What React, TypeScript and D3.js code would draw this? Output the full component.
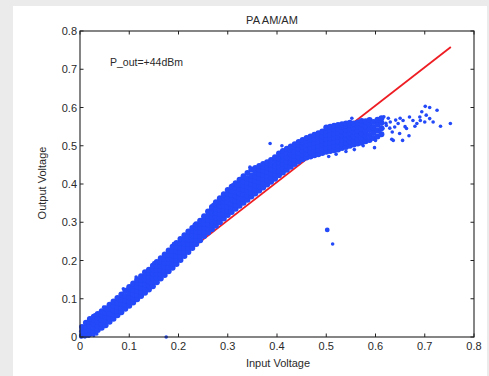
import React from "react";
import * as d3 from "d3";

const title = "PA AM/AM";
const xLabel = "Input Voltage";
const yLabel = "Output Voltage";
const note = "P_out=+44dBm";
const xTicks = [0, 0.1, 0.2, 0.3, 0.4, 0.5, 0.6, 0.7, 0.8];
const yTicks = [0, 0.1, 0.2, 0.3, 0.4, 0.5, 0.6, 0.7, 0.8];

// linear reference line (red)
const refLine: [number, number][] = [
  [0, 0.005],
  [0.753, 0.758],
];

// dense measurement cloud: [input voltage, output voltages at that input]
const bandColumns: [number, number[]][] = [
  [0.004, [0.004, 0.015, 0.026]],
  [0.012, [0.005, 0.016, 0.027, 0.037]],
  [0.020, [0.008, 0.019, 0.030, 0.041, 0.047]],
  [0.028, [0.013, 0.024, 0.035, 0.046, 0.053]],
  [0.036, [0.018, 0.029, 0.040, 0.051, 0.060]],
  [0.044, [0.024, 0.035, 0.046, 0.057, 0.067]],
  [0.052, [0.031, 0.042, 0.053, 0.064, 0.075]],
  [0.060, [0.040, 0.051, 0.062, 0.073, 0.084]],
  [0.068, [0.048, 0.059, 0.070, 0.081, 0.093]],
  [0.076, [0.057, 0.068, 0.079, 0.090, 0.102]],
  [0.084, [0.065, 0.076, 0.087, 0.098, 0.111]],
  [0.092, [0.074, 0.085, 0.096, 0.107, 0.121]],
  [0.100, [0.082, 0.093, 0.104, 0.115, 0.126, 0.131]],
  [0.108, [0.090, 0.101, 0.112, 0.123, 0.134, 0.140]],
  [0.116, [0.099, 0.110, 0.121, 0.132, 0.143, 0.150]],
  [0.124, [0.107, 0.118, 0.129, 0.140, 0.151, 0.159]],
  [0.132, [0.116, 0.127, 0.138, 0.149, 0.160, 0.169]],
  [0.140, [0.124, 0.135, 0.146, 0.157, 0.168, 0.176]],
  [0.148, [0.133, 0.144, 0.155, 0.166, 0.177, 0.186]],
  [0.156, [0.143, 0.154, 0.165, 0.176, 0.187, 0.196]],
  [0.164, [0.153, 0.164, 0.175, 0.186, 0.197, 0.206]],
  [0.172, [0.162, 0.173, 0.184, 0.195, 0.206, 0.216]],
  [0.180, [0.172, 0.183, 0.194, 0.205, 0.216, 0.226]],
  [0.188, [0.181, 0.192, 0.203, 0.214, 0.225, 0.236]],
  [0.196, [0.191, 0.202, 0.213, 0.224, 0.235, 0.246]],
  [0.204, [0.201, 0.212, 0.223, 0.234, 0.245, 0.256]],
  [0.212, [0.212, 0.223, 0.234, 0.245, 0.256, 0.266]],
  [0.220, [0.222, 0.233, 0.244, 0.255, 0.266, 0.276]],
  [0.228, [0.233, 0.244, 0.255, 0.266, 0.277, 0.285]],
  [0.236, [0.243, 0.254, 0.265, 0.276, 0.287, 0.295]],
  [0.244, [0.253, 0.264, 0.275, 0.286, 0.297, 0.304]],
  [0.252, [0.264, 0.275, 0.286, 0.297, 0.308, 0.316]],
  [0.260, [0.273, 0.284, 0.295, 0.306, 0.317, 0.328]],
  [0.268, [0.282, 0.293, 0.304, 0.315, 0.326, 0.337, 0.340]],
  [0.276, [0.291, 0.302, 0.313, 0.324, 0.335, 0.346, 0.352]],
  [0.284, [0.300, 0.311, 0.322, 0.333, 0.344, 0.355, 0.363]],
  [0.292, [0.310, 0.321, 0.332, 0.343, 0.354, 0.365, 0.373]],
  [0.300, [0.319, 0.330, 0.341, 0.352, 0.363, 0.374, 0.384]],
  [0.308, [0.327, 0.338, 0.349, 0.360, 0.371, 0.382, 0.393]],
  [0.316, [0.335, 0.346, 0.357, 0.368, 0.379, 0.390, 0.402]],
  [0.324, [0.343, 0.354, 0.365, 0.376, 0.387, 0.398, 0.411]],
  [0.332, [0.351, 0.362, 0.373, 0.384, 0.395, 0.406, 0.420]],
  [0.340, [0.359, 0.370, 0.381, 0.392, 0.403, 0.414, 0.429]],
  [0.348, [0.367, 0.378, 0.389, 0.400, 0.411, 0.422, 0.438]],
  [0.356, [0.375, 0.386, 0.397, 0.408, 0.419, 0.430, 0.442]],
  [0.364, [0.383, 0.394, 0.405, 0.416, 0.427, 0.438, 0.447]],
  [0.372, [0.391, 0.402, 0.413, 0.424, 0.435, 0.446, 0.452]],
  [0.380, [0.399, 0.410, 0.421, 0.432, 0.443, 0.457]],
  [0.388, [0.406, 0.417, 0.428, 0.439, 0.450, 0.463]],
  [0.396, [0.414, 0.425, 0.436, 0.447, 0.458, 0.470]],
  [0.404, [0.423, 0.434, 0.445, 0.456, 0.467, 0.480]],
  [0.412, [0.430, 0.441, 0.452, 0.463, 0.474, 0.486]],
  [0.420, [0.437, 0.448, 0.459, 0.470, 0.481, 0.492]],
  [0.428, [0.445, 0.456, 0.467, 0.478, 0.489, 0.498]],
  [0.436, [0.452, 0.463, 0.474, 0.485, 0.496, 0.504]],
  [0.444, [0.459, 0.470, 0.481, 0.492, 0.503, 0.510]],
  [0.452, [0.465, 0.476, 0.487, 0.498, 0.509, 0.515]],
  [0.460, [0.469, 0.480, 0.491, 0.502, 0.513, 0.520]],
  [0.468, [0.472, 0.483, 0.494, 0.505, 0.516, 0.524]],
  [0.476, [0.475, 0.486, 0.497, 0.508, 0.519, 0.529]],
  [0.484, [0.478, 0.489, 0.500, 0.511, 0.522, 0.533]],
  [0.492, [0.481, 0.492, 0.503, 0.514, 0.525, 0.537]],
  [0.500, [0.484, 0.495, 0.506, 0.517, 0.528, 0.539, 0.548]],
  [0.508, [0.486, 0.497, 0.508, 0.519, 0.530, 0.541, 0.550]],
  [0.516, [0.488, 0.499, 0.510, 0.521, 0.532, 0.543, 0.552]],
  [0.524, [0.490, 0.501, 0.512, 0.523, 0.534, 0.545, 0.554]],
  [0.532, [0.494, 0.505, 0.516, 0.527, 0.538, 0.549, 0.556]],
  [0.540, [0.497, 0.508, 0.519, 0.530, 0.541, 0.552, 0.558]],
  [0.548, [0.500, 0.511, 0.522, 0.533, 0.544, 0.555, 0.560]],
  [0.556, [0.503, 0.514, 0.525, 0.536, 0.547, 0.558]],
  [0.564, [0.506, 0.517, 0.528, 0.539, 0.550, 0.561]],
  [0.572, [0.508, 0.520, 0.532, 0.544, 0.556, 0.565]],
  [0.580, [0.512, 0.525, 0.538, 0.551, 0.564]],
  [0.588, [0.515, 0.528, 0.542, 0.556, 0.567]],
  [0.596, [0.520, 0.534, 0.548, 0.562]],
  [0.604, [0.524, 0.540, 0.555, 0.568]],
  [0.612, [0.530, 0.546, 0.560, 0.572]],
];

// sparse points: origin cluster, edges, saturated tail
const sparsePoints: [number, number][] = [
  [0.002, 0.0], [0.010, 0.0], [0.018, 0.002], [0.028, 0.004], [0.034, 0.008],
  [0.006, 0.012], [0.016, 0.036], [0.030, 0.058], [0.048, 0.078], [0.088, 0.126],
  [0.114, 0.157], [0.150, 0.194], [0.190, 0.244], [0.232, 0.294], [0.270, 0.346],
  [0.310, 0.398], [0.345, 0.444], [0.505, 0.472], [0.520, 0.478], [0.540, 0.485],
  [0.557, 0.490], [0.575, 0.500], [0.552, 0.572], [0.598, 0.495], [0.600, 0.514],
  [0.609, 0.536], [0.615, 0.545], [0.617, 0.576], [0.621, 0.559], [0.622, 0.553],
  [0.626, 0.572], [0.629, 0.546], [0.630, 0.562], [0.633, 0.517], [0.634, 0.536],
  [0.636, 0.514], [0.639, 0.549], [0.641, 0.567], [0.646, 0.558], [0.649, 0.532],
  [0.650, 0.572], [0.655, 0.514], [0.656, 0.566], [0.660, 0.550], [0.663, 0.545],
  [0.668, 0.526], [0.669, 0.575], [0.676, 0.566], [0.680, 0.551], [0.684, 0.558],
  [0.690, 0.575], [0.691, 0.566], [0.694, 0.589], [0.700, 0.562], [0.701, 0.603],
  [0.703, 0.580], [0.710, 0.600], [0.710, 0.571], [0.717, 0.562], [0.725, 0.593],
  [0.732, 0.551], [0.752, 0.558], [0.386, 0.506], [0.410, 0.500], [0.513, 0.243],
  [0.175, 0.0],
];

const bigOutliers: [number, number][] = [[0.502, 0.28]];

const W = 489;
const H = 376;
const plotL = 80;
const plotR = 474;
const plotT = 31;
const plotB = 337;

export default function App() {
  const x = d3.scaleLinear().domain([0, 0.8]).range([plotL, plotR]);
  const y = d3.scaleLinear().domain([0, 0.8]).range([plotB, plotT]);
  const line = d3
    .line<[number, number]>()
    .x((d) => x(d[0]))
    .y((d) => y(d[1]));
  const bandPoints: [number, number][] = bandColumns.flatMap(([cx, ys]) =>
    ys.map((v) => [cx, v] as [number, number])
  );
  const blue = "#2349f8";
  const font = "'Liberation Sans', Arial, sans-serif";
  const txt = "#2a2a2a";
  const tick = 3.5;
  return (
    <div style={{ position: "absolute", left: 0, top: 0 }}>
      <svg width={W} height={H} style={{ display: "block" }}>
        <rect x={0} y={0} width={W} height={H} fill="#ebebeb" />
        <rect x={13} y={6} width={474} height={H - 6} fill="#ffffff" />
        <text x={272} y={24} textAnchor="middle" fontFamily={font} fontSize={11} fill={txt}>
          {title}
        </text>
        <path d={line(refLine) || ""} stroke="#ee1d23" strokeWidth={1.8} fill="none" />
        {bandPoints.map((p, i) => (
          <circle key={"b" + i} cx={x(p[0])} cy={y(p[1])} r={3} fill={blue} />
        ))}
        {sparsePoints.map((p, i) => (
          <circle key={"s" + i} cx={x(p[0])} cy={y(p[1])} r={1.8} fill={blue} />
        ))}
        {bigOutliers.map((p, i) => (
          <circle key={"o" + i} cx={x(p[0])} cy={y(p[1])} r={2.4} fill={blue} />
        ))}
        <rect
          x={plotL}
          y={plotT}
          width={plotR - plotL}
          height={plotB - plotT}
          fill="none"
          stroke="#222"
          strokeWidth={1.1}
        />
        {xTicks.map((t) => (
          <g key={"xt" + t}>
            <line x1={x(t)} x2={x(t)} y1={plotB} y2={plotB - tick} stroke="#222" />
            <line x1={x(t)} x2={x(t)} y1={plotT} y2={plotT + tick} stroke="#222" />
            <text
              x={x(t)}
              y={350}
              textAnchor="middle"
              fontFamily={font}
              fontSize={11}
              fill={txt}
            >
              {String(t)}
            </text>
          </g>
        ))}
        {yTicks.map((t) => (
          <g key={"yt" + t}>
            <line x1={plotL} x2={plotL + tick} y1={y(t)} y2={y(t)} stroke="#222" />
            <line x1={plotR} x2={plotR - tick} y1={y(t)} y2={y(t)} stroke="#222" />
            <text
              x={77}
              y={y(t) + 4}
              textAnchor="end"
              fontFamily={font}
              fontSize={11}
              fill={txt}
            >
              {String(t)}
            </text>
          </g>
        ))}
        <text x={278} y={367} textAnchor="middle" fontFamily={font} fontSize={11} fill={txt}>
          {xLabel}
        </text>
        <text
          transform="translate(45.5,183) rotate(-90)"
          textAnchor="middle"
          fontFamily={font}
          fontSize={11}
          fill={txt}
        >
          {yLabel}
        </text>
        <text x={110} y={65.5} fontFamily={font} fontSize={10.5} fill={txt}>
          {note}
        </text>
      </svg>
    </div>
  );
}
